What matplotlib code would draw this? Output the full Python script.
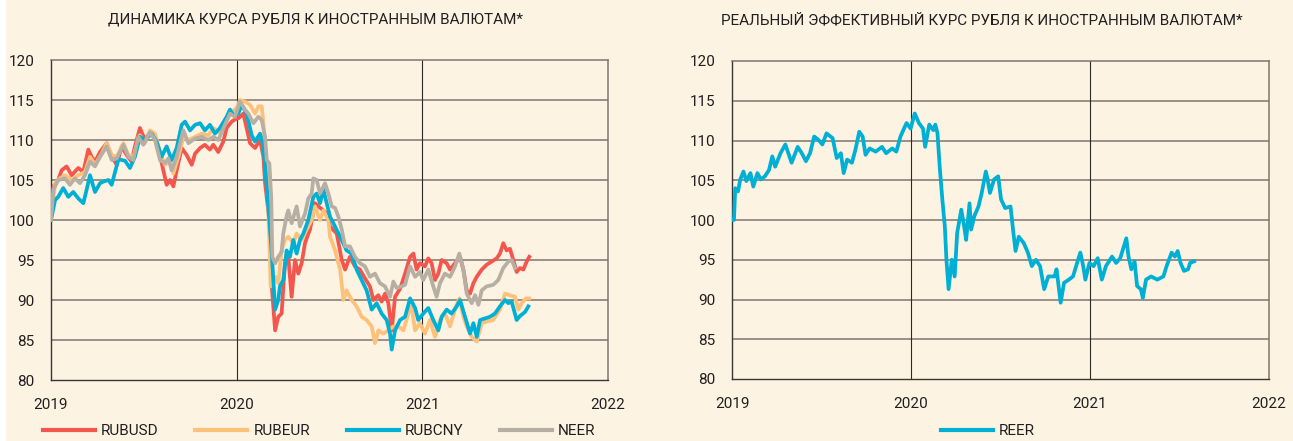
import numpy as np
import matplotlib
matplotlib.use('Agg')
import matplotlib.pyplot as plt
from matplotlib.patches import Rectangle

plt.rcParams['font.family'] = ['Roboto', 'DejaVu Sans']

# time is given in years since 1 Jan 2019
year_labels = ['2019', '2020', '2021', '2022']
y_ticks = [80, 85, 90, 95, 100, 105, 110, 115, 120]

usd = [(0.000, 100.0), (0.013, 104.2), (0.039, 105.0), (0.057, 106.2), (0.084, 106.7), (0.111, 105.6),
       (0.147, 106.5), (0.174, 106.0), (0.201, 108.8), (0.219, 107.9), (0.237, 107.3), (0.264, 108.5),
       (0.300, 109.6), (0.327, 107.9), (0.354, 106.9), (0.381, 109.2), (0.408, 108.1), (0.434, 107.3),
       (0.452, 109.2), (0.479, 111.5), (0.506, 110.0), (0.533, 111.0), (0.560, 110.2), (0.587, 108.1),
       (0.605, 106.2), (0.623, 104.4), (0.641, 105.0), (0.659, 104.2), (0.677, 106.2), (0.704, 109.0),
       (0.731, 108.1), (0.758, 106.9), (0.776, 108.3), (0.803, 109.0), (0.829, 109.4), (0.856, 108.8),
       (0.874, 109.4), (0.901, 108.5), (0.928, 109.8), (0.946, 111.5), (0.973, 112.3), (1.000, 112.7),
       (1.009, 112.7), (1.036, 113.3), (1.072, 109.6), (1.099, 109.0), (1.126, 110.0), (1.144, 107.9),
       (1.153, 104.6), (1.176, 100.0), (1.189, 91.7), (1.207, 86.2), (1.224, 87.9), (1.242, 88.3),
       (1.260, 94.6), (1.278, 95.4), (1.296, 90.4), (1.314, 95.0), (1.332, 93.3), (1.350, 94.6),
       (1.368, 97.1), (1.386, 98.3), (1.395, 98.8), (1.422, 102.1), (1.440, 101.7), (1.467, 101.2),
       (1.485, 100.8), (1.503, 99.2), (1.539, 98.3), (1.566, 95.0), (1.584, 93.8), (1.610, 95.4),
       (1.637, 94.2), (1.664, 93.8), (1.691, 92.7), (1.718, 91.7), (1.736, 90.0), (1.763, 90.6),
       (1.781, 89.8), (1.799, 90.8), (1.817, 89.6), (1.835, 86.2), (1.853, 90.4), (1.880, 91.4),
       (1.907, 93.3), (1.934, 95.4), (1.952, 95.8), (1.969, 93.8), (1.987, 94.6), (2.014, 94.2),
       (2.032, 95.2), (2.050, 94.6), (2.068, 92.5), (2.086, 93.3), (2.104, 95.0), (2.131, 94.6),
       (2.149, 93.8), (2.176, 94.6), (2.203, 95.4), (2.221, 93.8), (2.239, 91.2), (2.257, 90.8),
       (2.275, 92.1), (2.293, 92.9), (2.320, 93.8), (2.346, 94.4), (2.373, 94.8), (2.400, 95.2),
       (2.418, 95.8), (2.436, 97.1), (2.454, 96.2), (2.472, 96.4), (2.490, 95.0), (2.508, 93.5),
       (2.526, 94.0), (2.544, 93.8), (2.562, 94.8), (2.576, 95.4)]

eur = [(0.000, 100.0), (0.022, 104.6), (0.048, 105.2), (0.075, 105.6), (0.111, 105.0), (0.147, 105.6),
       (0.183, 106.0), (0.210, 107.9), (0.237, 106.9), (0.273, 108.3), (0.300, 109.6), (0.327, 108.1),
       (0.354, 107.9), (0.390, 109.6), (0.417, 108.1), (0.443, 107.9), (0.479, 110.6), (0.506, 109.6),
       (0.533, 111.2), (0.560, 110.8), (0.587, 108.5), (0.614, 106.9), (0.641, 107.3), (0.659, 105.8),
       (0.686, 107.9), (0.713, 110.4), (0.740, 110.0), (0.776, 110.4), (0.811, 110.8), (0.847, 110.6),
       (0.874, 111.5), (0.901, 111.0), (0.937, 112.5), (0.964, 113.3), (1.000, 114.0), (1.018, 115.0),
       (1.045, 114.8), (1.072, 114.4), (1.099, 113.3), (1.117, 114.2), (1.135, 114.2), (1.144, 112.1),
       (1.153, 109.2), (1.162, 106.7), (1.176, 97.5), (1.183, 91.7), (1.207, 92.9), (1.224, 92.1),
       (1.242, 96.2), (1.260, 97.5), (1.278, 97.9), (1.305, 97.1), (1.323, 98.3), (1.350, 97.5),
       (1.377, 98.8), (1.404, 100.0), (1.422, 101.7), (1.449, 100.0), (1.467, 101.2), (1.494, 100.0),
       (1.503, 97.9), (1.530, 96.2), (1.557, 93.8), (1.575, 90.0), (1.592, 91.2), (1.619, 90.0),
       (1.646, 89.2), (1.673, 87.9), (1.700, 87.5), (1.727, 86.7), (1.745, 84.6), (1.763, 86.2),
       (1.790, 85.8), (1.817, 86.2), (1.844, 86.7), (1.871, 86.7), (1.898, 86.2), (1.925, 88.3),
       (1.942, 89.2), (1.961, 86.2), (1.987, 87.1), (2.014, 85.8), (2.041, 87.5), (2.068, 85.4),
       (2.095, 87.5), (2.122, 88.3), (2.149, 86.7), (2.176, 88.8), (2.199, 90.2), (2.221, 87.9),
       (2.239, 86.7), (2.266, 85.4), (2.293, 84.8), (2.320, 87.1), (2.346, 87.3), (2.382, 87.5),
       (2.418, 88.8), (2.445, 90.8), (2.472, 90.6), (2.499, 90.4), (2.517, 88.8), (2.535, 89.6),
       (2.558, 90.2), (2.576, 90.2)]

cny = [(0.000, 100.0), (0.022, 102.5), (0.039, 102.9), (0.066, 104.0), (0.093, 102.9), (0.120, 103.5),
       (0.147, 102.7), (0.174, 102.1), (0.192, 103.8), (0.210, 105.6), (0.237, 103.5), (0.264, 104.6),
       (0.282, 104.8), (0.309, 105.0), (0.327, 104.4), (0.345, 106.0), (0.363, 107.6), (0.399, 107.4),
       (0.425, 106.5), (0.452, 107.9), (0.479, 110.4), (0.506, 110.0), (0.542, 110.8), (0.569, 109.8),
       (0.596, 107.9), (0.623, 109.2), (0.650, 107.5), (0.677, 109.0), (0.704, 111.9), (0.722, 112.3),
       (0.749, 111.2), (0.776, 111.9), (0.803, 112.1), (0.829, 111.2), (0.856, 111.9), (0.883, 110.8),
       (0.910, 111.5), (0.946, 112.9), (0.964, 113.8), (0.982, 113.1), (1.009, 113.3), (1.027, 114.4),
       (1.054, 113.3), (1.081, 110.6), (1.099, 109.8), (1.126, 110.8), (1.144, 109.2), (1.153, 106.7),
       (1.176, 100.0), (1.189, 95.8), (1.207, 88.8), (1.224, 90.0), (1.233, 91.7), (1.251, 92.5),
       (1.269, 96.2), (1.287, 95.4), (1.305, 97.5), (1.323, 95.8), (1.341, 97.5), (1.359, 98.3),
       (1.386, 100.0), (1.413, 102.9), (1.431, 103.3), (1.449, 102.1), (1.467, 103.8), (1.485, 102.1),
       (1.503, 100.4), (1.521, 99.6), (1.566, 97.5), (1.592, 96.2), (1.619, 95.8), (1.646, 93.8),
       (1.673, 92.5), (1.700, 91.2), (1.727, 88.8), (1.754, 89.6), (1.781, 88.3), (1.808, 87.5),
       (1.826, 85.8), (1.835, 83.8), (1.853, 86.2), (1.880, 87.5), (1.907, 87.9), (1.934, 90.2),
       (1.961, 89.0), (1.978, 87.5), (2.005, 88.3), (2.032, 89.0), (2.059, 87.5), (2.086, 86.2),
       (2.104, 87.9), (2.131, 88.8), (2.158, 88.3), (2.185, 89.2), (2.203, 90.0), (2.230, 87.9),
       (2.257, 85.8), (2.275, 87.1), (2.293, 85.4), (2.311, 87.5), (2.338, 87.7), (2.364, 87.9),
       (2.391, 88.3), (2.418, 89.2), (2.445, 90.0), (2.463, 89.6), (2.481, 89.8), (2.508, 87.5),
       (2.526, 88.0), (2.553, 88.5), (2.571, 89.2)]

neer = [(0.000, 100.0), (0.013, 103.8), (0.039, 105.0), (0.075, 105.2), (0.102, 104.4), (0.129, 105.2),
        (0.156, 104.6), (0.183, 105.6), (0.210, 107.3), (0.237, 106.7), (0.264, 107.9), (0.300, 109.2),
        (0.327, 107.5), (0.354, 107.7), (0.390, 109.4), (0.417, 107.9), (0.443, 107.5), (0.470, 110.4),
        (0.497, 109.4), (0.533, 111.0), (0.560, 110.0), (0.587, 107.5), (0.614, 107.1), (0.632, 107.7),
        (0.650, 106.2), (0.677, 107.9), (0.713, 111.2), (0.740, 109.6), (0.776, 110.2), (0.811, 110.4),
        (0.847, 110.0), (0.874, 110.4), (0.901, 110.0), (0.937, 111.9), (0.964, 113.3), (0.991, 112.9),
        (1.018, 114.8), (1.045, 113.8), (1.063, 113.3), (1.090, 112.1), (1.117, 112.9), (1.135, 112.5),
        (1.153, 110.4), (1.162, 107.5), (1.176, 107.1), (1.186, 102.9), (1.192, 95.4), (1.207, 94.6),
        (1.224, 95.4), (1.242, 96.0), (1.251, 98.3), (1.269, 100.5), (1.278, 101.2), (1.296, 99.6),
        (1.323, 101.7), (1.341, 99.2), (1.368, 100.8), (1.386, 102.7), (1.404, 103.3), (1.413, 105.2),
        (1.431, 105.0), (1.449, 103.3), (1.476, 104.6), (1.494, 103.3), (1.512, 101.7), (1.530, 101.5),
        (1.548, 100.4), (1.566, 98.8), (1.584, 96.7), (1.610, 96.7), (1.637, 95.4), (1.664, 94.6),
        (1.691, 94.2), (1.718, 92.9), (1.745, 93.3), (1.772, 92.1), (1.799, 91.7), (1.826, 90.4),
        (1.844, 92.3), (1.862, 91.5), (1.889, 91.7), (1.907, 91.9), (1.934, 94.2), (1.961, 92.9),
        (1.987, 93.5), (2.005, 92.5), (2.032, 93.8), (2.059, 91.7), (2.077, 90.4), (2.095, 92.1),
        (2.122, 93.3), (2.149, 92.9), (2.176, 94.2), (2.199, 95.8), (2.221, 93.8), (2.239, 90.8),
        (2.266, 89.6), (2.284, 90.6), (2.302, 89.4), (2.320, 91.2), (2.346, 91.7), (2.382, 91.9),
        (2.409, 92.5), (2.436, 94.0), (2.463, 94.8), (2.481, 95.0), (2.499, 94.0)]

reer = [(0.000, 100.0), (0.011, 100.0), (0.018, 104.0), (0.034, 103.6), (0.046, 105.1), (0.064, 106.1),
        (0.080, 104.9), (0.103, 105.9), (0.119, 104.2), (0.142, 105.9), (0.161, 105.1), (0.184, 105.5),
        (0.207, 106.3), (0.225, 108.0), (0.241, 106.7), (0.271, 108.4), (0.298, 109.5), (0.333, 107.2),
        (0.367, 109.2), (0.390, 108.4), (0.413, 107.4), (0.436, 108.4), (0.459, 110.5), (0.482, 110.1),
        (0.505, 109.5), (0.528, 110.9), (0.562, 110.3), (0.585, 107.8), (0.608, 108.4), (0.624, 105.9),
        (0.643, 107.6), (0.670, 107.2), (0.689, 108.8), (0.711, 111.1), (0.730, 110.5), (0.746, 108.2),
        (0.769, 109.0), (0.803, 108.6), (0.838, 109.2), (0.861, 108.4), (0.895, 109.0), (0.918, 108.6),
        (0.941, 110.5), (0.975, 112.2), (0.998, 111.5), (1.021, 113.4), (1.044, 112.2), (1.067, 111.5),
        (1.079, 109.2), (1.102, 112.0), (1.125, 111.3), (1.136, 112.0), (1.148, 110.9), (1.161, 106.5),
        (1.175, 102.6), (1.189, 99.2), (1.198, 95.0), (1.210, 91.3), (1.228, 95.0), (1.244, 92.9),
        (1.258, 98.4), (1.281, 101.3), (1.297, 99.2), (1.308, 97.5), (1.327, 102.1), (1.336, 98.8),
        (1.354, 100.5), (1.377, 101.7), (1.395, 103.4), (1.418, 106.1), (1.428, 105.1), (1.441, 103.4),
        (1.464, 105.1), (1.487, 105.5), (1.503, 102.6), (1.526, 101.5), (1.556, 101.7), (1.572, 98.4),
        (1.584, 96.1), (1.602, 97.9), (1.630, 97.1), (1.653, 95.9), (1.675, 94.2), (1.698, 95.0),
        (1.721, 94.2), (1.744, 91.3), (1.767, 92.9), (1.802, 92.9), (1.813, 93.8), (1.836, 89.6),
        (1.855, 92.1), (1.882, 92.5), (1.905, 92.9), (1.928, 94.6), (1.946, 95.9), (1.962, 94.2),
        (1.974, 92.5), (1.997, 94.6), (2.020, 94.2), (2.043, 95.2), (2.066, 92.5), (2.089, 94.2),
        (2.123, 95.4), (2.146, 94.6), (2.169, 95.2), (2.203, 97.7), (2.215, 95.4), (2.231, 93.8),
        (2.249, 94.8), (2.263, 91.7), (2.284, 91.3), (2.295, 90.2), (2.313, 92.5), (2.341, 92.9),
        (2.376, 92.5), (2.410, 92.9), (2.428, 94.2), (2.456, 95.9), (2.474, 95.4), (2.490, 96.1),
        (2.506, 94.6), (2.525, 93.6), (2.548, 93.8), (2.559, 94.6), (2.582, 94.8)]

BG = '#fdf3e3'
GRID = '#7f756f'
DARK = '#231f20'
colors = {'RUBUSD': '#f4564e', 'RUBEUR': '#fdc17a', 'RUBCNY': '#00b0d4', 'NEER': '#b7afa4', 'REER': '#00b0d4'}

fig = plt.figure(figsize=(12.93, 4.41), dpi=100, facecolor=BG)
fig.add_artist(Rectangle((0, 0), 5 / 1293, 1, transform=fig.transFigure, color='white', zorder=0))

ax1 = fig.add_axes([51 / 1293, 61 / 441, 557 / 1293, 320 / 441])
ax2 = fig.add_axes([732 / 1293, 62 / 441, 537 / 1293, 318 / 441])


def style(ax):
    ax.set_facecolor(BG)
    ax.set_xlim(0, 3)
    ax.set_ylim(80, 120)
    ax.set_xticks(range(4))
    ax.set_xticklabels(year_labels)
    ax.set_yticks(y_ticks)
    for y in y_ticks[1:-1]:
        ax.axhline(y, color=GRID, lw=1.1, zorder=1)
    for x in [1, 2]:
        ax.axvline(x, color='#2e2a28', lw=0.8, zorder=1)
    for s in ['top', 'right']:
        ax.spines[s].set_color(GRID)
        ax.spines[s].set_linewidth(1.1)
    for s in ['left', 'bottom']:
        ax.spines[s].set_color('#3b3634')
        ax.spines[s].set_linewidth(1.0)
    ax.tick_params(length=0, labelsize=11, colors=DARK)
    ax.tick_params(axis='y', pad=12)
    ax.tick_params(axis='x', pad=13)


style(ax1)
style(ax2)

series = [('RUBUSD', usd), ('RUBEUR', eur), ('RUBCNY', cny), ('NEER', neer)]
for name, data in series:
    d = np.array(data)
    ax1.plot(d[:, 0], d[:, 1], color=colors[name], lw=2.7, label=name, zorder=3,
             solid_joinstyle='round')

d = np.array(reer)
ax2.plot(d[:, 0], d[:, 1], color=colors['REER'], lw=2.7, label='REER', zorder=3,
         solid_joinstyle='round')

fig.text(316 / 1293, 1 - 20 / 441, 'ДИНАМИКА КУРСА РУБЛЯ К ИНОСТРАННЫМ ВАЛЮТАМ*',
         ha='center', va='center', fontsize=11, color=DARK)
fig.text(982 / 1293, 1 - 20 / 441, 'РЕАЛЬНЫЙ ЭФФЕКТИВНЫЙ КУРС РУБЛЯ К ИНОСТРАННЫМ ВАЛЮТАМ*',
         ha='center', va='center', fontsize=11, color=DARK)

leg_kw = dict(frameon=False, fontsize=11, handlelength=3.4, handletextpad=0.4,
              columnspacing=2.4, borderpad=0, borderaxespad=0, labelcolor=DARK)
h1, l1 = ax1.get_legend_handles_labels()
lg1 = fig.legend(h1, l1, loc='center left', bbox_to_anchor=(43 / 1293, 10 / 441), ncol=4, **leg_kw)
h2, l2 = ax2.get_legend_handles_labels()
lg2 = fig.legend(h2, l2, loc='center left', bbox_to_anchor=(941 / 1293, 10 / 441), ncol=1, **leg_kw)
for lg in (lg1, lg2):
    for ln in lg.get_lines():
        ln.set_linewidth(3.0)

fig.savefig('out.png', dpi=100, facecolor=BG)
